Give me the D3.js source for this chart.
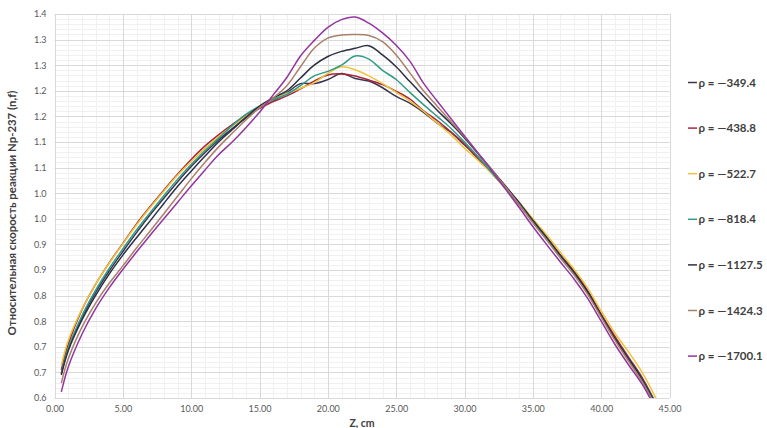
<!DOCTYPE html>
<html>
<head>
<meta charset="utf-8">
<script src="https://cdn.jsdelivr.net/npm/d3@7"></script>
<style>
  body { margin: 0; background: #fff; }
  svg { display: block; font-family: Lato, "Open Sans", sans-serif; }
</style>
</head>
<body>
<svg id="chart" width="767" height="428"></svg>
<script>
// Chart values.
const zValues = [0.5, 1, 2, 3, 4, 5, 6, 7, 8, 9, 10, 11, 12, 13, 14, 15, 16, 17, 18, 19, 20, 21, 22,
  23, 24, 25, 26, 27, 28, 29, 30, 31, 32, 33, 34, 35, 36, 37, 38, 39, 40, 41, 42, 43, 44];

const seriesNames = ['ρ = —349.4', 'ρ = —438.8', 'ρ = —522.7', 'ρ = —818.4', 'ρ = —1127.5', 'ρ = —1424.3', 'ρ = —1700.1'];

const rho349 = [0.648, 0.695, 0.757, 0.806, 0.848, 0.886, 0.923, 0.958, 0.99, 1.022, 1.052, 1.079, 1.104, 1.126,
  1.147, 1.166, 1.181, 1.196, 1.214, 1.214, 1.222, 1.234, 1.224, 1.219, 1.206, 1.189, 1.176, 1.158, 1.137,
  1.119, 1.094, 1.07, 1.04, 1.01, 0.98, 0.944, 0.91, 0.878, 0.846, 0.806, 0.762, 0.716, 0.676, 0.637, 0.587];
const rho438 = [0.655, 0.705, 0.772, 0.822, 0.864, 0.902, 0.94, 0.974, 1.006, 1.037, 1.066, 1.092, 1.114, 1.134,
  1.152, 1.166, 1.179, 1.19, 1.204, 1.219, 1.231, 1.233, 1.229, 1.221, 1.212, 1.199, 1.184, 1.161, 1.142,
  1.12, 1.096, 1.066, 1.039, 1.009, 0.978, 0.945, 0.914, 0.88, 0.849, 0.81, 0.764, 0.721, 0.68, 0.64, 0.59];
const rho522 = [0.664, 0.712, 0.773, 0.822, 0.863, 0.901, 0.938, 0.972, 1.004, 1.035, 1.062, 1.087, 1.11, 1.131,
  1.15, 1.168, 1.183, 1.195, 1.205, 1.216, 1.234, 1.247, 1.241, 1.229, 1.214, 1.197, 1.18, 1.16, 1.137,
  1.114, 1.088, 1.064, 1.038, 1.01, 0.982, 0.95, 0.919, 0.885, 0.852, 0.815, 0.77, 0.727, 0.69, 0.65, 0.6];
const rho818 = [0.647, 0.697, 0.76, 0.81, 0.853, 0.891, 0.928, 0.962, 0.995, 1.027, 1.056, 1.083, 1.107, 1.132,
  1.154, 1.17, 1.183, 1.193, 1.21, 1.229, 1.238, 1.25, 1.268, 1.262, 1.24, 1.222, 1.197, 1.173, 1.15,
  1.127, 1.1, 1.071, 1.04, 1.01, 0.978, 0.944, 0.911, 0.877, 0.845, 0.806, 0.76, 0.716, 0.676, 0.637, 0.59];
const rho1127 = [0.645, 0.692, 0.752, 0.8, 0.842, 0.879, 0.913, 0.946, 0.98, 1.013, 1.043, 1.072, 1.1, 1.124,
  1.148, 1.17, 1.186, 1.2, 1.225, 1.25, 1.267, 1.277, 1.283, 1.288, 1.27, 1.247, 1.218, 1.19, 1.162,
  1.136, 1.108, 1.077, 1.046, 1.014, 0.982, 0.947, 0.914, 0.879, 0.846, 0.808, 0.762, 0.717, 0.677, 0.637, 0.588];
const rho1424 = [0.629, 0.676, 0.738, 0.785, 0.824, 0.858, 0.893, 0.926, 0.96, 0.994, 1.028, 1.06, 1.09, 1.117,
  1.143, 1.167, 1.186, 1.21, 1.247, 1.283, 1.303, 1.309, 1.31, 1.308, 1.296, 1.27, 1.235, 1.2, 1.17,
  1.14, 1.11, 1.078, 1.045, 1.012, 0.978, 0.942, 0.909, 0.874, 0.841, 0.803, 0.758, 0.713, 0.672, 0.632, 0.584];
const rho1700 = [0.612, 0.66, 0.724, 0.774, 0.815, 0.851, 0.885, 0.918, 0.95, 0.982, 1.014, 1.045, 1.075, 1.1,
  1.128, 1.158, 1.192, 1.226, 1.268, 1.298, 1.324, 1.339, 1.344, 1.332, 1.313, 1.289, 1.258, 1.215, 1.18,
  1.146, 1.112, 1.078, 1.044, 1.008, 0.972, 0.935, 0.9, 0.866, 0.833, 0.795, 0.75, 0.705, 0.665, 0.627, 0.578];

const seriesValues = [rho349, rho438, rho522, rho818, rho1127, rho1424, rho1700];
const colors = ['#3b3552', '#a8263b', '#f0c43a', '#2f9c88', '#2c2f45', '#a9806a', '#93359f'];

// Ticks as Excel shows them (one decimal, so some repeat).
const yTicks = [0.6, 0.65, 0.7, 0.75, 0.8, 0.85, 0.9, 0.95, 1.0, 1.05, 1.1, 1.15, 1.2, 1.25, 1.3, 1.35];
const yTickLabels = ['0.6', '0.7', '0.7', '0.8', '0.8', '0.9', '0.9', '1.0', '1.0', '1.1', '1.1', '1.2', '1.2', '1.3', '1.3', '1.4'];
const xTicks = [0, 5, 10, 15, 20, 25, 30, 35, 40, 45];

// Set up.
const svg = d3.select('#chart');
const plotLeft = 54.5, plotRight = 669.5, plotTop = 14, plotBottom = 398;

const x = d3.scaleLinear().domain([0, 45]).range([plotLeft, plotRight]);
const y = d3.scaleLinear().domain([0.6, 1.35]).range([plotBottom, plotTop]);

// Minor grid.
const g = svg.append('g');
g.selectAll('.xminor')
  .data(d3.range(0, 45.01, 1))
  .join('line')
  .attr('x1', d => Math.round(x(d)) + 0.5).attr('x2', d => Math.round(x(d)) + 0.5)
  .attr('y1', plotTop).attr('y2', plotBottom)
  .attr('stroke', '#f0f0f0').attr('stroke-width', 1);
g.selectAll('.yminor')
  .data(d3.range(0, 76, 1).map(i => 0.6 + i * 0.01))
  .join('line')
  .attr('x1', plotLeft).attr('x2', plotRight)
  .attr('y1', d => Math.round(y(d)) + 0.5).attr('y2', d => Math.round(y(d)) + 0.5)
  .attr('stroke', '#f0f0f0').attr('stroke-width', 1);

// Major grid.
g.selectAll('.xmajor')
  .data(xTicks)
  .join('line')
  .attr('x1', d => Math.round(x(d)) + 0.5).attr('x2', d => Math.round(x(d)) + 0.5)
  .attr('y1', plotTop).attr('y2', plotBottom)
  .attr('stroke', '#d9d9d9').attr('stroke-width', 1);
g.selectAll('.ymajor')
  .data(yTicks)
  .join('line')
  .attr('x1', plotLeft).attr('x2', plotRight)
  .attr('y1', d => Math.round(y(d)) + 0.5).attr('y2', d => Math.round(y(d)) + 0.5)
  .attr('stroke', '#d9d9d9').attr('stroke-width', 1);

// Axis labels via d3 axes.
const xAxis = d3.axisBottom(x).tickValues(xTicks).tickSize(0).tickPadding(8)
  .tickFormat(d3.format('.2f'));
svg.append('g')
  .attr('transform', `translate(0,${plotBottom})`)
  .call(xAxis)
  .call(a => a.select('.domain').remove())
  .call(a => a.selectAll('text').attr('fill', '#595959').style('font-size', '9px').style('font-family', 'Lato, sans-serif'));

const yAxis = d3.axisLeft(y).tickValues(yTicks).tickSize(0).tickPadding(8)
  .tickFormat((d, i) => yTickLabels[i]);
svg.append('g')
  .attr('transform', `translate(${plotLeft},0)`)
  .call(yAxis)
  .call(a => a.select('.domain').remove())
  .call(a => a.selectAll('text').attr('fill', '#595959').style('font-size', '9px').style('font-family', 'Lato, sans-serif'));

// Titles.
svg.append('text')
  .attr('transform', `translate(16,${(plotTop + plotBottom) / 2 + 7}) rotate(-90)`)
  .attr('text-anchor', 'middle')
  .attr('fill', '#404040')
  .style('font-size', '11.4px').style('font-weight', 'bold')
  .text('Относительная скорость реакции Np-237 (n,f)');

svg.append('text')
  .attr('x', (plotLeft + plotRight) / 2)
  .attr('y', 427)
  .attr('text-anchor', 'middle')
  .attr('fill', '#404040')
  .style('font-size', '10.5px').style('font-weight', 'bold')
  .text('Z, cm');

// Lines.
svg.append('clipPath').attr('id', 'plot')
  .append('rect').attr('x', plotLeft).attr('y', plotTop - 2)
  .attr('width', plotRight - plotLeft).attr('height', plotBottom - plotTop + 2);

const line = d3.line()
  .x((d, i) => x(zValues[i]))
  .y(d => y(d))
  .curve(d3.curveCatmullRom.alpha(0.5));

svg.append('g')
  .attr('clip-path', 'url(#plot)')
  .selectAll('path')
  .data(seriesValues)
  .join('path')
  .attr('d', line)
  .attr('fill', 'none')
  .attr('stroke', (d, i) => colors[i])
  .attr('stroke-width', 1.5)
  .attr('stroke-linejoin', 'round');

// Legend.
const legend = svg.append('g')
  .selectAll('g')
  .data(seriesNames)
  .join('g')
  .attr('transform', (d, i) => `translate(688,${82.5 + i * 45.6})`);
legend.append('line')
  .attr('x1', 0).attr('x2', 9).attr('y1', 0).attr('y2', 0)
  .attr('stroke', (d, i) => colors[i]).attr('stroke-width', 1.5);
legend.append('text')
  .attr('x', 10.5).attr('y', 4)
  .attr('fill', '#404040')
  .style('font-size', '11.5px').style('font-weight', 'bold')
  .text(d => d);
</script>
</body>
</html>
